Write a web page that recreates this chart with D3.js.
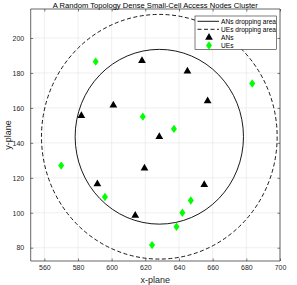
<!DOCTYPE html>
<html>
<head>
<meta charset="utf-8">
<script src="https://cdn.jsdelivr.net/npm/d3@7"></script>
<style>
  body { margin: 0; background: #fff; }
  text { font-family: "Liberation Sans", Arial, sans-serif; }
</style>
</head>
<body>
<div id="chart"></div>
<script>
// chart size and plot box
var width = 297,
    height = 285,
    boxLeft = 30.7, boxRight = 280, boxTop = 9, boxBottom = 261;

// data
var anX = [618, 601, 582, 645, 657, 628.3, 619.5, 591.5, 614, 655];
var anY = [187, 161.5, 155.5, 181, 164, 143.5, 125.5, 116.5, 98.5, 116];
var ueX = [590.5, 618.5, 683.5, 637, 570, 596, 624, 647, 642, 638.5];
var ueY = [186.5, 155, 174, 148, 127, 109, 81.5, 107, 100, 92];
var centerX = 628.3, centerY = 143.5;
var anRadius = 50, ueRadius = 70;
var xTicks = [560, 580, 600, 620, 640, 660, 680, 700];
var yTicks = [80, 100, 120, 140, 160, 180, 200];
var legendNames = ["ANs dropping area", "UEs dropping area", "ANs", "UEs"];

var svg = d3.select("#chart").append("svg")
  .attr("width", width)
  .attr("height", height);

var x = d3.scaleLinear().domain([551.9, 700]).range([boxLeft, boxRight]);
var y = d3.scaleLinear().domain([72.4, 216.6]).range([boxBottom, boxTop]);

var axisColor = "#262626";

//white plot background
svg.append("rect")
  .attr("x", boxLeft).attr("y", boxTop)
  .attr("width", boxRight - boxLeft).attr("height", boxBottom - boxTop)
  .attr("fill", "#fff");

//grid lines
svg.append("g").selectAll("line").data(xTicks).enter().append("line")
  .attr("x1", d => x(d)).attr("x2", d => x(d))
  .attr("y1", boxTop).attr("y2", boxBottom)
  .attr("stroke", "#e6e6e6").attr("stroke-width", 0.6);
svg.append("g").selectAll("line").data(yTicks).enter().append("line")
  .attr("x1", boxLeft).attr("x2", boxRight)
  .attr("y1", d => y(d)).attr("y2", d => y(d))
  .attr("stroke", "#e6e6e6").attr("stroke-width", 0.6);

//dropping areas
var circles = [
  {r: anRadius, dash: null},
  {r: ueRadius, dash: "4,2.5"}
];
svg.append("g").selectAll("ellipse").data(circles).enter().append("ellipse")
  .attr("cx", x(centerX)).attr("cy", y(centerY))
  .attr("rx", d => x(centerX + d.r) - x(centerX))
  .attr("ry", d => y(centerY) - y(centerY + d.r))
  .attr("fill", "none")
  .attr("stroke", "#000")
  .attr("stroke-width", 0.9)
  .attr("stroke-dasharray", d => d.dash);

//markers
var tri = d3.symbol().type(d3.symbolTriangle).size(26);
var diamond = "M0,-4.2L3,0L0,4.2L-3,0Z";

svg.append("g").selectAll("path").data(anX).enter().append("path")
  .attr("d", tri)
  .attr("transform", (d, i) => "translate(" + x(d) + "," + y(anY[i]) + ")")
  .attr("fill", "#000");

svg.append("g").selectAll("path").data(ueX).enter().append("path")
  .attr("d", diamond)
  .attr("transform", (d, i) => "translate(" + x(d) + "," + y(ueY[i]) + ")")
  .attr("fill", "#00ff00");

//axes (box with ticks on all sides, ticks inward)
var xb = svg.append("g").attr("transform", "translate(0," + boxBottom + ")")
  .call(d3.axisBottom(x).tickValues(xTicks).tickSizeInner(-2.5).tickSizeOuter(0).tickPadding(4.5));
var xt = svg.append("g").attr("transform", "translate(0," + boxTop + ")")
  .call(d3.axisTop(x).tickValues(xTicks).tickSizeInner(-2.5).tickSizeOuter(0).tickFormat(""));
var yl = svg.append("g").attr("transform", "translate(" + boxLeft + ",0)")
  .call(d3.axisLeft(y).tickValues(yTicks).tickSizeInner(-2.5).tickSizeOuter(0).tickPadding(6.5));
var yr = svg.append("g").attr("transform", "translate(" + boxRight + ",0)")
  .call(d3.axisRight(y).tickValues(yTicks).tickSizeInner(-2.5).tickSizeOuter(0).tickFormat(""));

[xb, xt, yl, yr].forEach(function(g) {
  g.selectAll("path").attr("stroke", axisColor).attr("stroke-width", 0.7);
  g.selectAll("line").attr("stroke", axisColor).attr("stroke-width", 0.6);
  g.selectAll("text").attr("fill", axisColor)
    .style("font-family", "Liberation Sans, Arial, sans-serif")
    .style("font-size", "7px");
});
xb.select(".domain").attr("d", "M" + boxLeft + ",0H" + boxRight);
xt.select(".domain").attr("d", "M" + boxLeft + ",0H" + boxRight);
yl.select(".domain").attr("d", "M0," + boxTop + "V" + boxBottom);
yr.select(".domain").attr("d", "M0," + boxTop + "V" + boxBottom);

//title and axis labels
svg.append("text")
  .attr("x", (boxLeft + boxRight) / 2).attr("y", 7.5)
  .attr("text-anchor", "middle")
  .style("font-size", "7.6px")
  .attr("fill", "#000")
  .text("A Random Topology Dense Small-Cell Access Nodes Cluster");

svg.append("text")
  .attr("x", (boxLeft + boxRight) / 2).attr("y", 282.5)
  .attr("text-anchor", "middle")
  .style("font-size", "9px")
  .attr("fill", axisColor)
  .text("x-plane");

svg.append("text")
  .attr("transform", "translate(11," + (boxTop + boxBottom) / 2 + ") rotate(-90)")
  .attr("text-anchor", "middle")
  .style("font-size", "9px")
  .attr("fill", axisColor)
  .text("y-plane");

//legend
var lg = svg.append("g");
lg.append("rect")
  .attr("x", 195).attr("y", 16)
  .attr("width", 81.5).attr("height", 33.5)
  .attr("fill", "#fff")
  .attr("stroke", axisColor).attr("stroke-width", 0.6);

var rowY = [21.3, 29.3, 37.5, 45.5];
legendNames.forEach(function(name, i) {
  var ry = rowY[i];
  if (i === 0 || i === 1) {
    lg.append("line")
      .attr("x1", 197.5).attr("x2", 219)
      .attr("y1", ry).attr("y2", ry)
      .attr("stroke", "#000").attr("stroke-width", 0.9)
      .attr("stroke-dasharray", i === 1 ? "4,2.5" : null);
  } else if (i === 2) {
    lg.append("path").attr("d", tri)
      .attr("transform", "translate(209," + ry + ")")
      .attr("fill", "#000");
  } else {
    lg.append("path").attr("d", diamond)
      .attr("transform", "translate(209," + ry + ")")
      .attr("fill", "#00ff00");
  }
  lg.append("text")
    .attr("x", 221).attr("y", ry + 2.4)
    .style("font-size", "6.6px")
    .attr("fill", "#000")
    .text(name);
});
</script>
</body>
</html>
